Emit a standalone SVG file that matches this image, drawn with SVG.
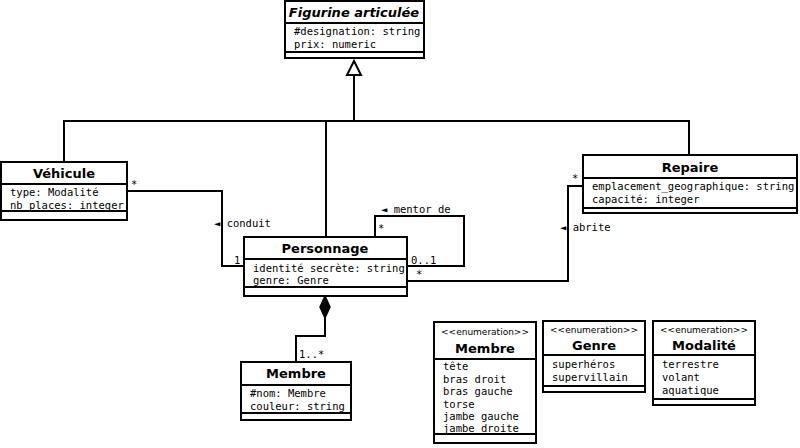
<svg xmlns="http://www.w3.org/2000/svg" width="800" height="448" viewBox="0 0 800 448">
<style>
rect,path.b{fill:#fff;stroke:#000;stroke-width:2}
line,polyline{stroke:#000;stroke-width:2;fill:none}
.t{font-family:"DejaVu Sans",sans-serif;font-weight:bold;font-size:13px;text-anchor:middle}
.m{font-family:"DejaVu Sans Mono",monospace;font-size:10.5px}
.s{font-family:"DejaVu Sans",sans-serif;font-size:9px;text-anchor:middle}
</style>
<rect x="0" y="0" width="800" height="448" style="stroke:none"/>
<g id="connectors">
<polyline points="64,162 64,121 689,121 689,155"/>
<line x1="326" y1="121" x2="326" y2="237"/>
<line x1="354" y1="121" x2="354" y2="75"/>
<path class="b" d="M354,61 L361,75 L347,75 Z"/>
<polyline points="127,191 222,191 222,266 244,266"/>
<polyline points="375,237 375,216 464,216 464,266 407,266"/>
<polyline points="407,281 568,281 568,186 583,186"/>
<polyline points="325,318 325,336 296,336 296,362"/>
<path d="M325,296 L330,307 L325,318 L320,307 Z" fill="#000" stroke="#000" stroke-width="1.5"/>
<g class="m">
<text x="131" y="188">*</text>
<text x="214" y="227">◄ conduit</text>
<text x="234" y="264">1</text>
<text x="378" y="232">*</text>
<text x="381" y="213">◄ mentor de</text>
<text x="411" y="264">0..1</text>
<text x="416" y="278">*</text>
<text x="572" y="182">*</text>
<text x="560" y="231">◄ abrite</text>
<text x="299" y="358">1..*</text>
</g>
</g>
<g id="figurine">
<rect x="285" y="1" width="139" height="57"/><line x1="285" y1="23" x2="424" y2="23"/><line x1="285" y1="52" x2="424" y2="52"/>
<text class="t" x="354" y="17" font-style="italic">Figurine articulée</text>
<text class="m" x="294" y="35">#designation: string</text><text class="m" x="294" y="48">prix: numeric</text>
</g>
<g id="vehicule">
<rect x="1" y="162" width="126" height="58"/><line x1="1" y1="184" x2="127" y2="184"/><line x1="1" y1="211" x2="127" y2="211"/>
<text class="t" x="64" y="178">Véhicule</text>
<text class="m" x="10" y="196">type: Modalité</text><text class="m" x="10" y="209">nb_places: integer</text>
</g>
<g id="personnage">
<rect x="244" y="237" width="163" height="59"/><line x1="244" y1="259" x2="407" y2="259"/><line x1="244" y1="287" x2="407" y2="287"/>
<text class="t" x="325" y="253">Personnage</text>
<text class="m" x="253" y="272">identité secrète: string</text><text class="m" x="253" y="284">genre: Genre</text>
</g>
<g id="repaire">
<rect x="583" y="155" width="214" height="58"/><line x1="583" y1="178" x2="797" y2="178"/><line x1="583" y1="208" x2="797" y2="208"/>
<text class="t" x="690" y="172">Repaire</text>
<text class="m" x="592" y="190">emplacement_geographique: string</text><text class="m" x="592" y="203">capacité: integer</text>
</g>
<g id="membre">
<rect x="241" y="362" width="110" height="58"/><line x1="241" y1="385" x2="351" y2="385"/><line x1="241" y1="413" x2="351" y2="413"/>
<text class="t" x="296" y="378">Membre</text>
<text class="m" x="250" y="397">#nom: Membre</text><text class="m" x="250" y="410">couleur: string</text>
</g>
<g id="enum-membre">
<rect x="434" y="322" width="102" height="121"/><line x1="434" y1="359" x2="536" y2="359"/><line x1="434" y1="434" x2="536" y2="434"/>
<text class="s" x="485" y="335">&lt;&lt;enumeration&gt;&gt;</text><text class="t" x="485" y="353">Membre</text>
<g class="m"><text x="443" y="370">tête</text><text x="443" y="382.5">bras droit</text><text x="443" y="395">bras gauche</text><text x="443" y="407.5">torse</text><text x="443" y="420">jambe gauche</text><text x="443" y="432">jambe droite</text></g>
</g>
<g id="enum-genre">
<rect x="543" y="321" width="102" height="71"/><line x1="543" y1="355" x2="645" y2="355"/><line x1="543" y1="386" x2="645" y2="386"/>
<text class="s" x="594" y="333">&lt;&lt;enumeration&gt;&gt;</text><text class="t" x="594" y="350">Genre</text>
<g class="m"><text x="552" y="368">superhéros</text><text x="552" y="381">supervillain</text></g>
</g>
<g id="enum-modalite">
<rect x="653" y="321" width="102" height="84"/><line x1="653" y1="355" x2="755" y2="355"/><line x1="653" y1="399" x2="755" y2="399"/>
<text class="s" x="704" y="333">&lt;&lt;enumeration&gt;&gt;</text><text class="t" x="704" y="350">Modalité</text>
<g class="m"><text x="662" y="368">terrestre</text><text x="662" y="381">volant</text><text x="662" y="394">aquatique</text></g>
</g>
</svg>
